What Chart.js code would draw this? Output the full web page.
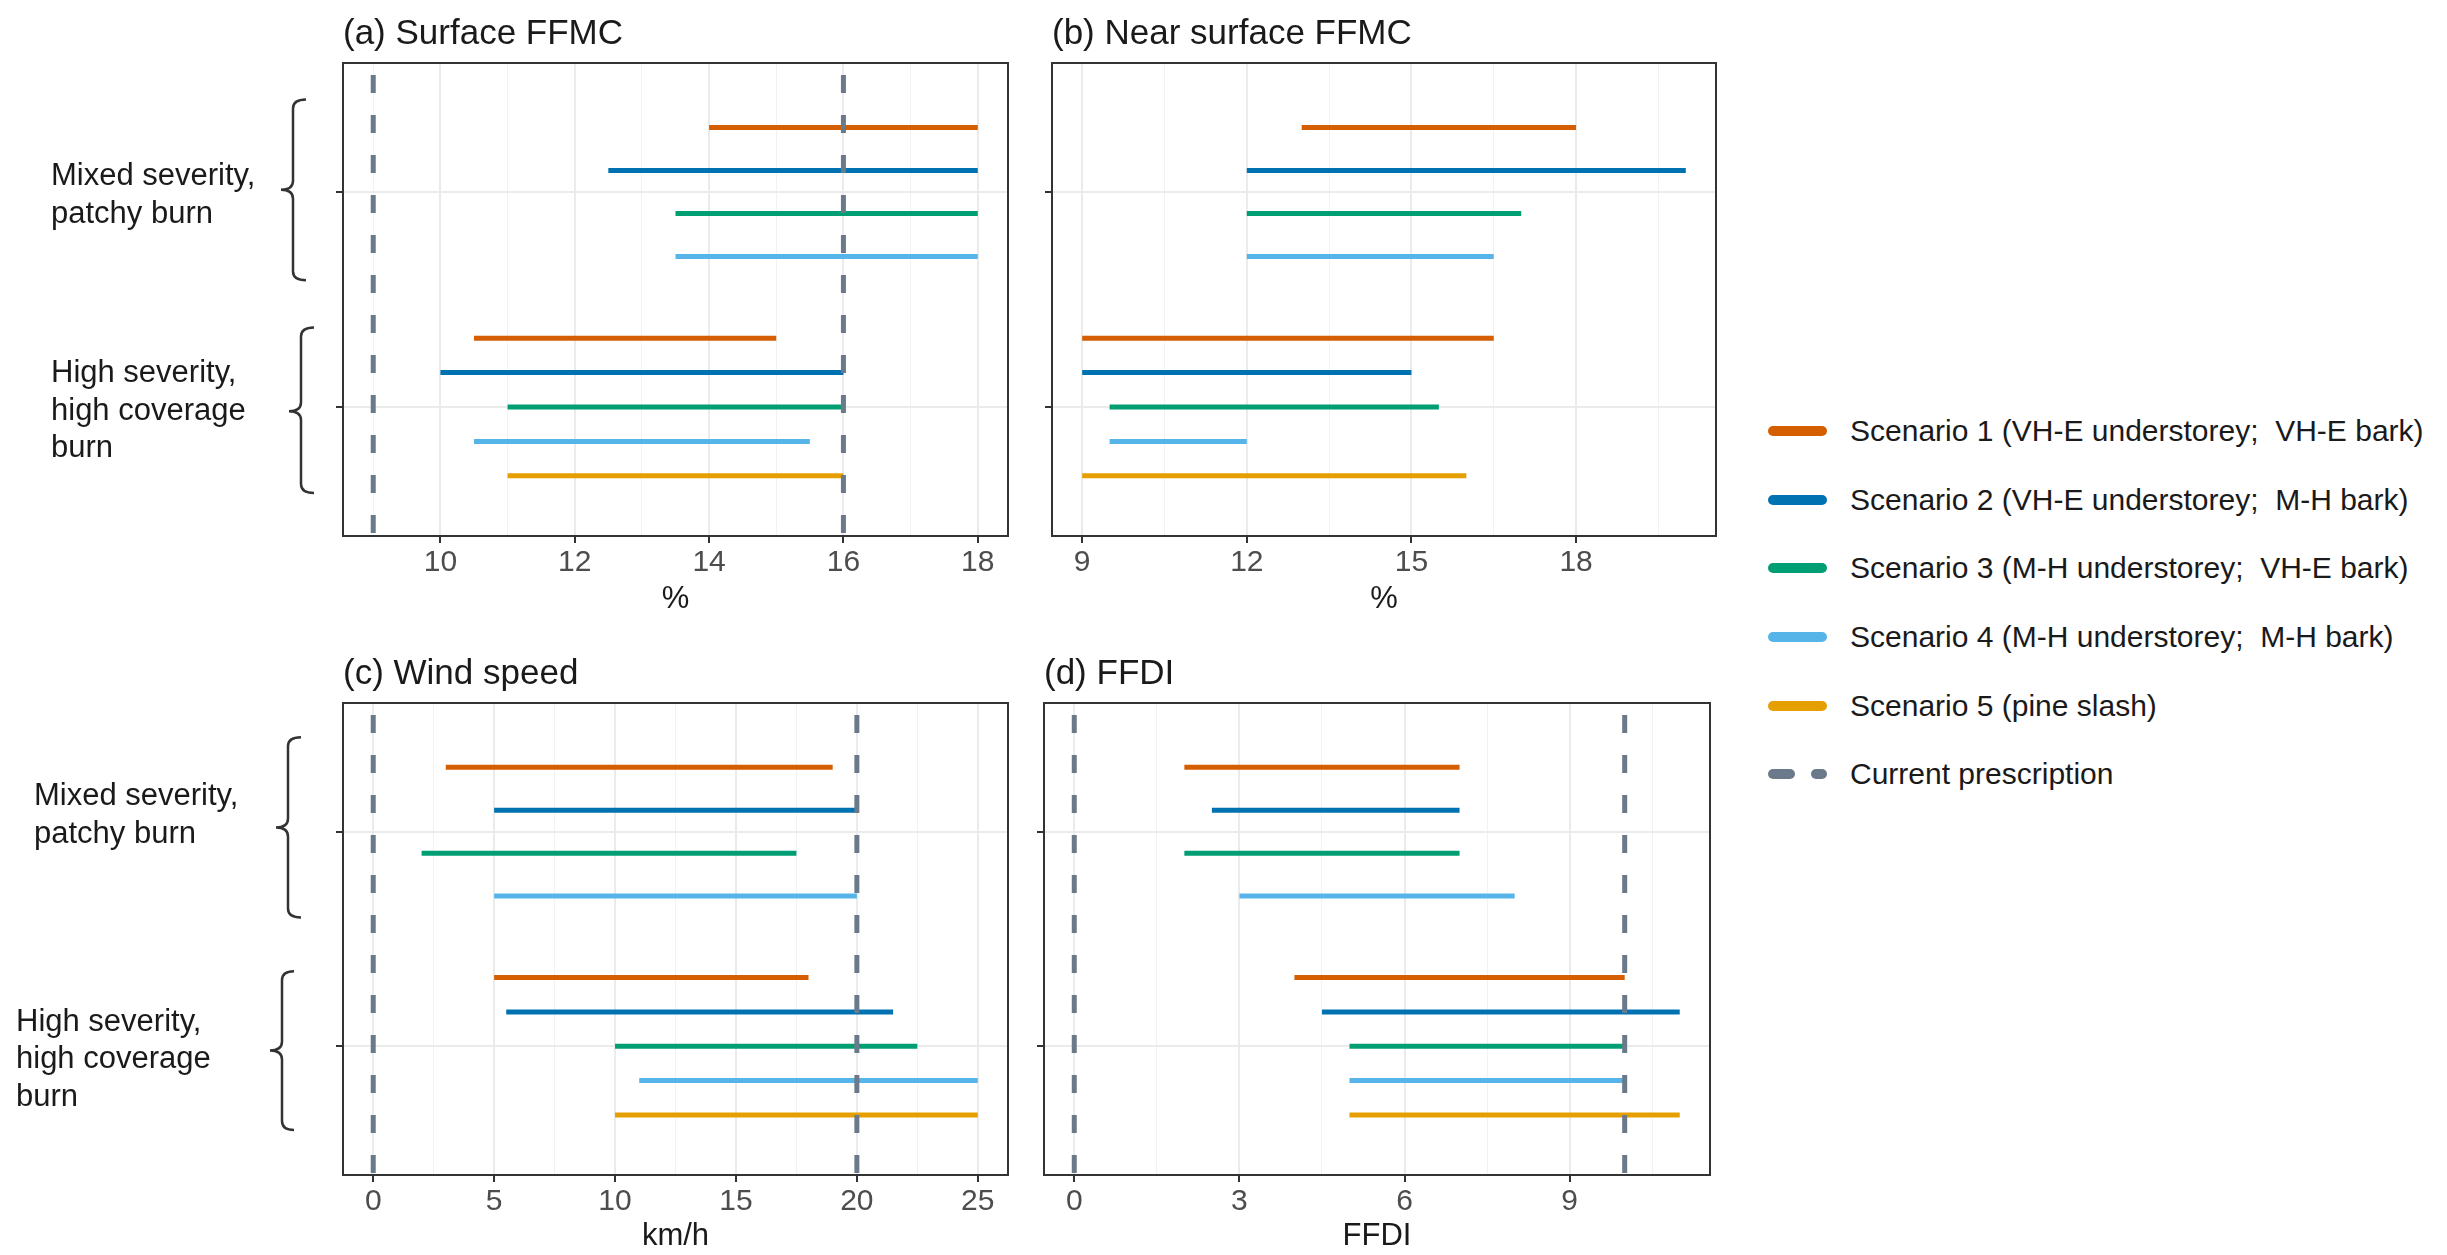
<!DOCTYPE html>
<html>
<head>
<meta charset="utf-8">
<script src="https://cdn.jsdelivr.net/npm/chart.js@4.4.1/dist/chart.umd.min.js"></script>
<style>
  body { margin: 0; width: 2447px; height: 1255px; background: #fff; position: relative; overflow: hidden; font-family: "Liberation Sans", Arial, sans-serif; }
  canvas { position: absolute; }
  #legend { position: absolute; left: 1768px; top: 397px; }
  .row { display: flex; align-items: center; height: 68.6px; font-size: 30px; color: #1a1a1a; white-space: pre; }
  .key { width: 59px; height: 10px; border-radius: 5px; margin-right: 23px; }
  .dash { display: flex; width: 59px; margin-right: 23px; justify-content: space-between; }
  .dash span { height: 10px; border-radius: 5px; }
</style>
</head>
<body>
<canvas id="panelA" width="1030" height="625" style="left:0;top:0"></canvas>
<canvas id="panelB" width="730" height="625" style="left:1010px;top:0"></canvas>
<canvas id="panelC" width="1030" height="615" style="left:0;top:640px"></canvas>
<canvas id="panelD" width="730" height="615" style="left:1002px;top:640px"></canvas>
<div id="legend"></div>

<script>
const scenarioNames = [
  "Scenario 1 (VH-E understorey;  VH-E bark)",
  "Scenario 2 (VH-E understorey;  M-H bark)",
  "Scenario 3 (M-H understorey;  VH-E bark)",
  "Scenario 4 (M-H understorey;  M-H bark)",
  "Scenario 5 (pine slash)",
];
const scenarioColors = ["#D55E00", "#0072B2", "#009E73", "#56B4E9", "#E69F00"];
const prescriptionName = "Current prescription";
const prescriptionColor = "#6a7a8b";
const burnGroups = [
  ["Mixed severity,", "patchy burn"],
  ["High severity,", "high coverage", "burn"],
];

// [min, max] of each scenario, null where the scenario was not assessed
// (a) Surface FFMC
const surfaceMixed = [[14, 18], [12.5, 18], [13.5, 18], [13.5, 18], null];
const surfaceHigh = [[10.5, 15], [10, 16], [11, 16], [10.5, 15.5], [11, 16]];
const surfacePrescription = [9, 16];
const surfaceTicks = [10, 12, 14, 16, 18];

// (b) Near surface FFMC
const nearMixed = [[13, 18], [12, 20], [12, 17], [12, 16.5], null];
const nearHigh = [[9, 16.5], [9, 15], [9.5, 15.5], [9.5, 12], [9, 16]];
const nearPrescription = [];
const nearTicks = [9, 12, 15, 18];

// (c) Wind speed
const windMixed = [[3, 19], [5, 20], [2, 17.5], [5, 20], null];
const windHigh = [[5, 18], [5.5, 21.5], [10, 22.5], [11, 25], [10, 25]];
const windPrescription = [0, 20];
const windTicks = [0, 5, 10, 15, 20, 25];

// (d) FFDI
const ffdiMixed = [[2, 7], [2.5, 7], [2, 7], [3, 8], null];
const ffdiHigh = [[4, 10], [4.5, 11], [5, 10], [5, 10], [5, 11]];
const ffdiPrescription = [0, 10];
const ffdiTicks = [0, 3, 6, 9];

const Y_MIN = 0.4;
const Y_MAX = 2.6;
const DODGE = 0.8;

function drawBrace(ctx, x, yTop, yMid, yBot, hook, point) {
  const r = 9;
  ctx.beginPath();
  ctx.moveTo(x + hook, yTop);
  ctx.quadraticCurveTo(x, yTop, x, yTop + r);
  ctx.lineTo(x, yMid - r);
  ctx.quadraticCurveTo(x, yMid, x - point, yMid);
  ctx.quadraticCurveTo(x, yMid, x, yMid + r);
  ctx.lineTo(x, yBot - r);
  ctx.quadraticCurveTo(x, yBot, x + hook, yBot);
  ctx.stroke();
}

const panelDecor = {
  id: "panelDecor",
  afterDraw(chart, args, opts) {
    const { ctx, chartArea: a, scales } = chart;
    ctx.save();
    ctx.strokeStyle = "#333333";
    ctx.lineWidth = 2;
    ctx.strokeRect(a.left, a.top, a.right - a.left, a.bottom - a.top);

    ctx.fillStyle = "#1a1a1a";
    ctx.font = '35px "Liberation Sans", Arial, sans-serif';
    ctx.textBaseline = "middle";
    ctx.textAlign = "left";
    ctx.fillText(opts.title, a.left, a.top - 29);

    (opts.side || []).forEach((s, g) => {
      const yc = scales.y.getPixelForValue(g + 1);
      const unit = scales.y.getPixelForValue(g + 2) - yc;
      const lines = burnGroups[g];
      const lh = 37.5;
      ctx.font = '31px "Liberation Sans", Arial, sans-serif';
      ctx.fillStyle = "#1a1a1a";
      const y0 = yc + s.dy * unit - (lh * (lines.length - 1)) / 2;
      lines.forEach((t, i) => ctx.fillText(t, s.x, y0 + i * lh));
      ctx.strokeStyle = "#333333";
      ctx.lineWidth = 2.5;
      drawBrace(ctx, s.bx, yc + s.top * unit, yc + s.mid * unit, yc + s.bot * unit, s.hook, 12);
    });
    ctx.restore();
  },
};

function makePanel(id, title, axisTitle, mixed, high, prescription, ticks, box) {
  const groups = [mixed, high];
  const all = prescription.slice();
  groups.forEach((g) => g.forEach((r) => r && all.push(r[0], r[1])));
  const lo = Math.min(...all);
  const hi = Math.max(...all);
  const pad = (hi - lo) * 0.05;
  const xMin = lo - pad;
  const xMax = hi + pad;

  const step = ticks[1] - ticks[0];
  const minor = [];
  for (let v = ticks[0] - step / 2; v <= xMax; v += step) {
    if (v >= xMin) minor.push(v);
  }
  const tickVals = ticks.concat(minor).sort((p, q) => p - q);

  const datasets = [];
  prescription.forEach((v) => {
    datasets.push({
      data: [{ x: v, y: Y_MIN }, { x: v, y: Y_MAX }],
      borderColor: prescriptionColor,
      borderWidth: 5,
      borderDash: [18, 22],
      borderDashOffset: 28,
      pointRadius: 0,
    });
  });
  groups.forEach((g, gi) => {
    const present = g.map((r, i) => (r ? i : -1)).filter((i) => i >= 0);
    present.forEach((si, k) => {
      const y = gi + 1 - DODGE / 2 + (DODGE * (k + 0.5)) / present.length;
      datasets.push({
        data: [{ x: g[si][0], y }, { x: g[si][1], y }],
        borderColor: scenarioColors[si],
        borderWidth: 5,
        borderCapStyle: "butt",
        pointRadius: 0,
      });
    });
  });

  return new Chart(document.getElementById(id), {
    type: "line",
    data: { datasets },
    plugins: [panelDecor],
    options: {
      responsive: false,
      animation: false,
      devicePixelRatio: 1,
      layout: { padding: { top: 63, right: box.right, bottom: box.bottom, left: 0 } },
      plugins: {
        legend: { display: false },
        tooltip: { enabled: false },
        panelDecor: { title, side: box.side },
      },
      scales: {
        x: {
          type: "linear",
          min: xMin,
          max: xMax,
          afterBuildTicks: (s) => { s.ticks = tickVals.map((v) => ({ value: v })); },
          afterFit: (s) => { s.height = box.axisHeight; },
          ticks: {
            autoSkip: false,
            maxRotation: 0,
            padding: 2,
            color: "#4d4d4d",
            font: { family: '"Liberation Sans", Arial, sans-serif', size: 30 },
            callback: (v) => (ticks.includes(v) ? String(v) : ""),
          },
          grid: {
            color: (c) => (c.tick && ticks.includes(c.tick.value) ? "#ebebeb" : "#f2f2f2"),
            lineWidth: (c) => (c.tick && ticks.includes(c.tick.value) ? 2 : 1),
            tickColor: (c) => (c.tick && ticks.includes(c.tick.value) ? "#333333" : "rgba(0,0,0,0)"),
            tickLength: 7,
            tickWidth: 2,
          },
          border: { display: false },
          title: {
            display: true,
            text: axisTitle,
            color: "#1a1a1a",
            font: { family: '"Liberation Sans", Arial, sans-serif', size: 31 },
            padding: { top: 0, bottom: 0 },
          },
        },
        y: {
          type: "linear",
          min: Y_MIN,
          max: Y_MAX,
          reverse: true,
          afterBuildTicks: (s) => { s.ticks = [{ value: 1 }, { value: 2 }]; },
          afterFit: (s) => { s.width = box.axisWidth; },
          ticks: { display: false },
          grid: { color: "#ebebeb", lineWidth: 2, tickColor: "#333333", tickLength: 7, tickWidth: 2 },
          border: { display: false },
        },
      },
    },
  });
}

makePanel("panelA", "(a) Surface FFMC", "%", surfaceMixed, surfaceHigh, surfacePrescription, surfaceTicks, {
  right: 22, bottom: 7, axisHeight: 82, axisWidth: 343,
  side: [
    { x: 51, dy: 0.015, bx: 293, top: -0.43, mid: -0.01, bot: 0.41, hook: 13 },
    { x: 51, dy: 0.02, bx: 301, top: -0.37, mid: 0.02, bot: 0.4, hook: 13 },
  ],
});
makePanel("panelB", "(b) Near surface FFMC", "%", nearMixed, nearHigh, nearPrescription, nearTicks, {
  right: 24, bottom: 7, axisHeight: 82, axisWidth: 42,
});
makePanel("panelC", "(c) Wind speed", "km/h", windMixed, windHigh, windPrescription, windTicks, {
  right: 22, bottom: 0, axisHeight: 80, axisWidth: 343,
  side: [
    { x: 34, dy: -0.075, bx: 288, top: -0.44, mid: -0.02, bot: 0.4, hook: 13 },
    { x: 16, dy: 0.063, bx: 282, top: -0.35, mid: 0.02, bot: 0.39, hook: 12 },
  ],
});
makePanel("panelD", "(d) FFDI", "FFDI", ffdiMixed, ffdiHigh, ffdiPrescription, ffdiTicks, {
  right: 22, bottom: 0, axisHeight: 80, axisWidth: 42,
});

const legend = document.getElementById("legend");
scenarioNames.forEach((name, i) => {
  const row = document.createElement("div");
  row.className = "row";
  row.innerHTML = `<div class="key" style="background:${scenarioColors[i]}"></div><span>${name}</span>`;
  legend.appendChild(row);
});
const presRow = document.createElement("div");
presRow.className = "row";
presRow.innerHTML = `
  <div class="dash">
    <span style="width:27px;background:${prescriptionColor}"></span>
    <span style="width:16px;background:${prescriptionColor}"></span>
  </div>
  <span>${prescriptionName}</span>`;
legend.appendChild(presRow);
</script>
</body>
</html>
